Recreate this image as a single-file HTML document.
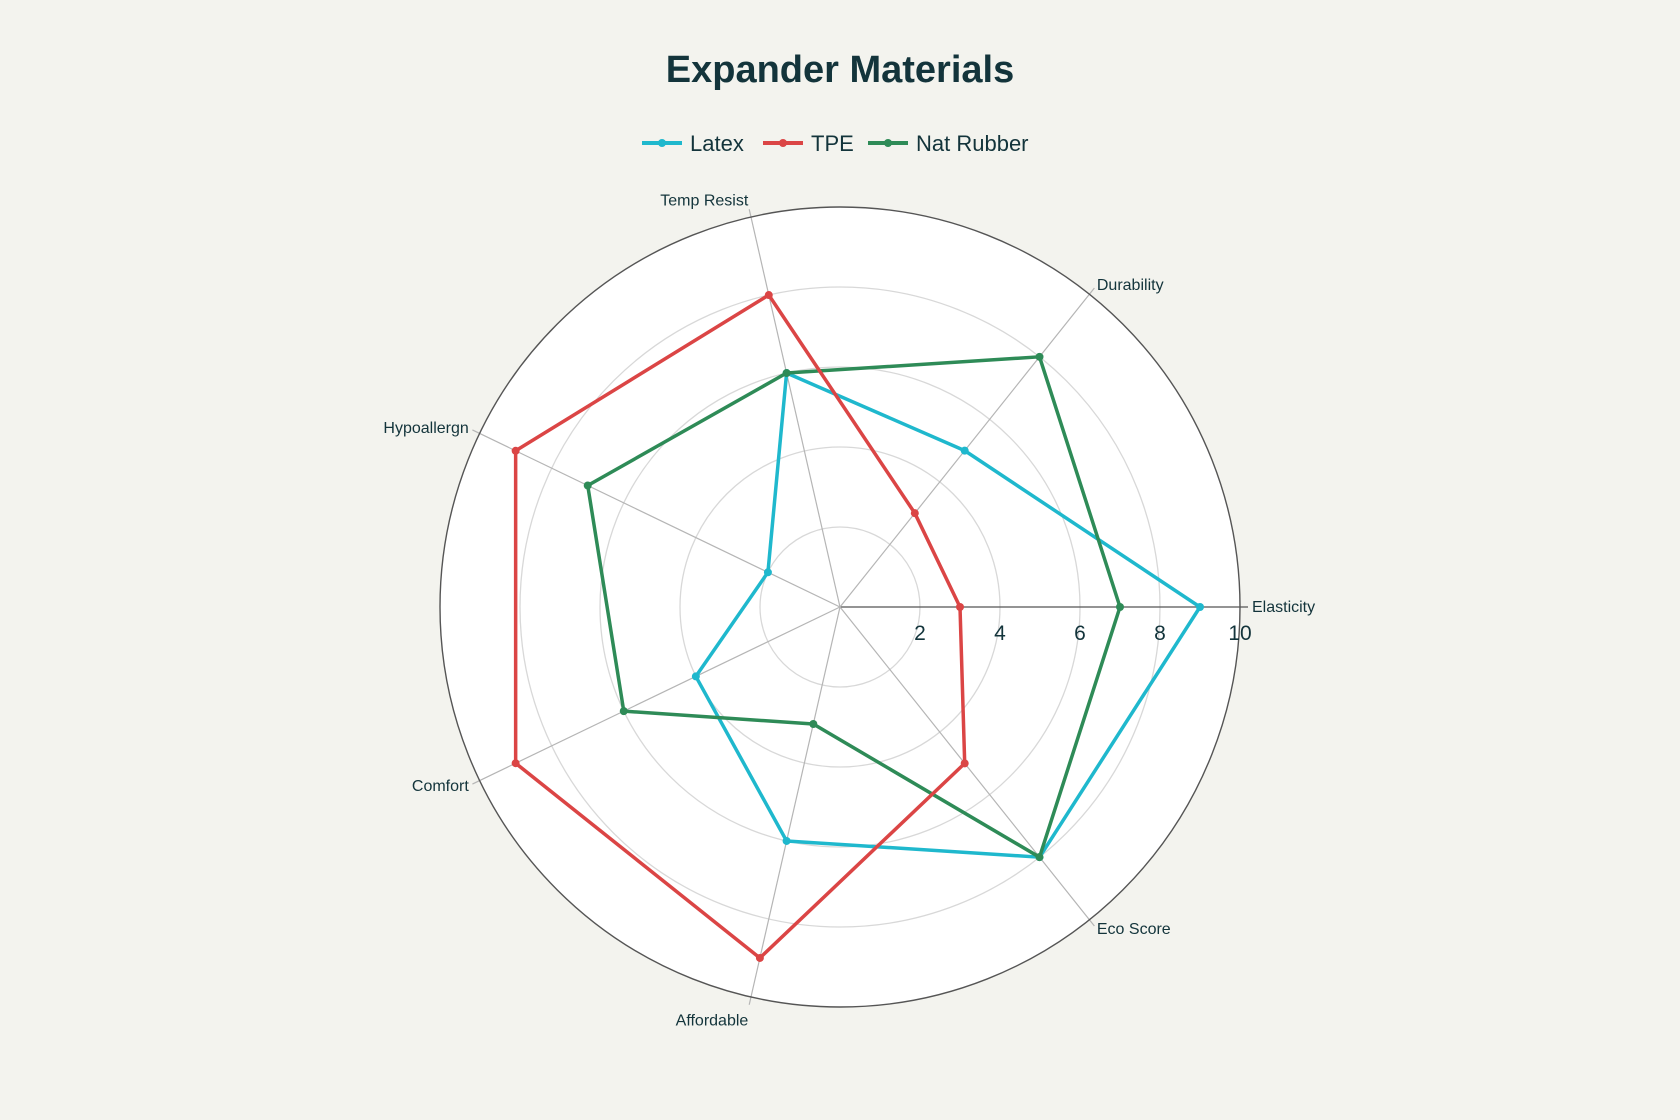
<!DOCTYPE html>
<html><head><meta charset="utf-8"><style>
html,body{margin:0;padding:0;background:#f3f3ee;}
svg{display:block;font-family:"Liberation Sans",sans-serif;}
</style></head><body>
<svg id="s" width="1680" height="1120" viewBox="0 0 1680 1120" xmlns="http://www.w3.org/2000/svg">
<rect width="1680" height="1120" fill="#f3f3ee"/>
<text x="840" y="82" text-anchor="middle" font-size="38" font-weight="bold" fill="#13343b">Expander Materials</text>
<g font-size="22" fill="#13343b">
<line x1="642" y1="143" x2="682" y2="143" stroke="#1fb8cd" stroke-width="4"/><circle cx="662" cy="143" r="4" fill="#1fb8cd"/>
<text x="690" y="151">Latex</text>
<line x1="763" y1="143" x2="803" y2="143" stroke="#db4545" stroke-width="4"/><circle cx="783" cy="143" r="4" fill="#db4545"/>
<text x="811" y="151">TPE</text>
<line x1="868" y1="143" x2="908" y2="143" stroke="#2e8b57" stroke-width="4"/><circle cx="888" cy="143" r="4" fill="#2e8b57"/>
<text x="916" y="151">Nat Rubber</text>
</g>
</svg>
<script>
var s=document.getElementById('s'),NS='http://www.w3.org/2000/svg';
var cx=840,cy=607,R=400;
function el(t,a,txt){var e=document.createElementNS(NS,t);for(var k in a)e.setAttribute(k,a[k]);if(txt)e.textContent=txt;s.appendChild(e);return e;}
el('circle',{cx:cx,cy:cy,r:R,fill:'#ffffff'});
for(var g=2;g<=8;g+=2)el('circle',{cx:cx,cy:cy,r:R*g/10,fill:'none',stroke:'#d8d8d8','stroke-width':1.3});
var labs=['Elasticity','Durability','Temp Resist','Hypoallergn','Comfort','Affordable','Eco Score'];
function pt(i,v){var a=i*2*Math.PI/7;return [cx+Math.cos(a)*R*v/10,cy-Math.sin(a)*R*v/10];}
for(var i=0;i<7;i++){var p=pt(i,10.2);el('line',{x1:cx,y1:cy,x2:p[0],y2:p[1],stroke:i==0?'#555':'#b5b5b5','stroke-width':1.2});
 var q=pt(i,10.3),c=Math.cos(i*2*Math.PI/7),an=c>0.2?'start':(c<-0.2?'end':'middle');
 var dy=5; if(i==2)dy=0; if(i==5)dy=17;
 if(i==2||i==5)an='end';
 el('text',{x:q[0],y:q[1]+dy,'text-anchor':an,'font-size':16,fill:'#13343b'},labs[i]);}
el('circle',{cx:cx,cy:cy,r:R,fill:'none',stroke:'#555','stroke-width':1.4});
for(var g=2;g<=10;g+=2)el('text',{x:cx+R*g/10,y:cy+33,'text-anchor':'middle','font-size':21,fill:'#13343b'},''+g);
var data=[['#1fb8cd',[9,5,6,2,4,6,8]],['#2e8b57',[7,8,6,7,6,3,8]],['#db4545',[3,3,8,9,9,9,5]]];
data.forEach(function(d){var pts=d[1].map(function(v,i){return pt(i,v);});
 el('polygon',{points:pts.map(function(p){return p.join(',')}).join(' '),fill:'none',stroke:d[0],'stroke-width':3.5,'stroke-linejoin':'round'});
 pts.forEach(function(p){el('circle',{cx:p[0],cy:p[1],r:4,fill:d[0]});});});
</script>
</body></html>
